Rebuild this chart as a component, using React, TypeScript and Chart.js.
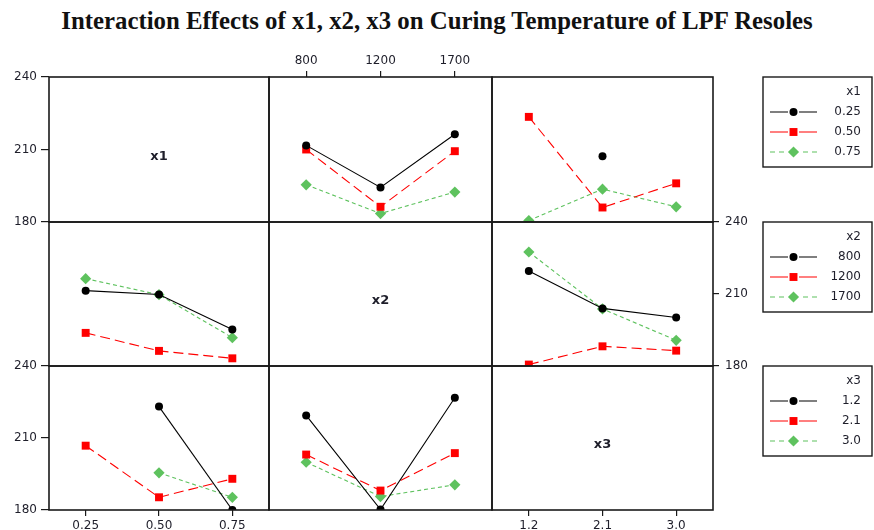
import { useEffect, useRef } from 'react';
import { Chart, registerables } from 'chart.js';

Chart.register(...registerables);

// Factor levels (categorical x positions and legend entries)
const factorNames = ['x1', 'x2', 'x3'];
const x1Levels = ['0.25', '0.50', '0.75'];
const x2Levels = ['800', '1200', '1700'];
const x3Levels = ['1.2', '2.1', '3.0'];
const levels = [x1Levels, x2Levels, x3Levels];

// Response axis (curing temperature)
const yMin = 180;
const yMax = 240;
const yStep = 30;

// Mean curing temperature vs x2, one line per x1 level
const vsX2ByX1_025 = [211.7, 194.3, 216.3];
const vsX2ByX1_050 = [210.0, 186.3, 209.3];
const vsX2ByX1_075 = [195.4, 183.5, 192.4];

// Mean curing temperature vs x3, one line per x1 level
const vsX3ByX1_025 = [null, 207.2, null];
const vsX3ByX1_050 = [223.5, 186.0, 196.0];
const vsX3ByX1_075 = [180.6, 193.6, 186.3];

// Mean curing temperature vs x1, one line per x2 level
const vsX1ByX2_800 = [211.4, 209.8, 195.2];
const vsX1ByX2_1200 = [193.8, 186.3, 183.2];
const vsX1ByX2_1700 = [216.4, 209.7, 191.8];

// Mean curing temperature vs x3, one line per x2 level
const vsX3ByX2_800 = [219.6, 204.0, 200.2];
const vsX3ByX2_1200 = [180.6, 188.2, 186.4];
const vsX3ByX2_1700 = [227.5, 203.8, 190.7];

// Mean curing temperature vs x1, one line per x3 level
const vsX1ByX3_12 = [null, 223.1, 180.0];
const vsX1ByX3_21 = [206.8, 185.3, 193.0];
const vsX1ByX3_30 = [null, 195.5, 185.3];

// Mean curing temperature vs x2, one line per x3 level
const vsX2ByX3_12 = [219.4, 180.2, 226.8];
const vsX2ByX3_21 = [203.1, 188.1, 203.7];
const vsX2ByX3_30 = [199.9, 185.6, 190.5];

// key: "<trace factor row>-<x factor column>"
const seriesTable: Record<string, (number | null)[][]> = {
  '0-1': [vsX2ByX1_025, vsX2ByX1_050, vsX2ByX1_075],
  '0-2': [vsX3ByX1_025, vsX3ByX1_050, vsX3ByX1_075],
  '1-0': [vsX1ByX2_800, vsX1ByX2_1200, vsX1ByX2_1700],
  '1-2': [vsX3ByX2_800, vsX3ByX2_1200, vsX3ByX2_1700],
  '2-0': [vsX1ByX3_12, vsX1ByX3_21, vsX1ByX3_30],
  '2-1': [vsX2ByX3_12, vsX2ByX3_21, vsX2ByX3_30],
};

const seriesStyles = [
  { color: '#000000', dash: [] as number[], legendDash: [] as number[], pointStyle: 'circle', radius: 4 },
  { color: '#ff0000', dash: [10, 5], legendDash: [] as number[], pointStyle: 'rect', radius: 5.6 },
  { color: '#5ec25e', dash: [4, 3], legendDash: [5, 4], pointStyle: 'rectRot', radius: 5.6 },
];

// Grid geometry of the 3x3 matrix (page pixels)
const colEdges = [49, 269, 492, 713];
const rowEdges = [77, 222, 366, 510];
const PAGE_W = 874;
const MARGIN = 40;

const TEXT = '#1e1e2a';
const FONT = '"DejaVu Sans", Verdana, sans-serif';

type Axes = { left?: boolean; right?: boolean; top?: boolean; bottom?: boolean };

function axesFor(r: number, c: number): Axes {
  if (r === 0 && c === 0) return { left: true };
  if (r === 0 && c === 1) return { top: true };
  if (r === 1 && c === 2) return { right: true };
  if (r === 2 && c === 0) return { left: true, bottom: true };
  if (r === 2 && c === 2) return { bottom: true };
  return {};
}

type Panel = { r: number; c: number };
const panels: Panel[] = [];
for (let r = 0; r < 3; r++) for (let c = 0; c < 3; c++) panels.push({ r, c });

function geometry(p: Panel) {
  const mL = MARGIN;
  const mR = p.c === 2 ? PAGE_W - colEdges[3] : MARGIN;
  const mT = MARGIN;
  const mB = MARGIN;
  const w = colEdges[p.c + 1] - colEdges[p.c] + mL + mR;
  const h = rowEdges[p.r + 1] - rowEdges[p.r] + mT + mB;
  return { x: colEdges[p.c] - mL, y: rowEdges[p.r] - mT, w, h, mL, mR, mT, mB };
}

function drawMarker(ctx: CanvasRenderingContext2D, style: string, x: number, y: number, r: number) {
  ctx.beginPath();
  if (style === 'circle') {
    ctx.arc(x, y, r, 0, Math.PI * 2);
  } else if (style === 'rect') {
    const s = r / Math.SQRT2;
    ctx.rect(x - s, y - s, 2 * s, 2 * s);
  } else {
    ctx.moveTo(x, y - r);
    ctx.lineTo(x + r, y);
    ctx.lineTo(x, y + r);
    ctx.lineTo(x - r, y);
    ctx.closePath();
  }
  ctx.fill();
}

// Frame around each panel, the factor name on diagonal panels and the legend box
const panelDecor = {
  id: 'panelDecor',
  afterDraw(chart: any, _args: any, opts: any) {
    const { ctx, chartArea: a } = chart;
    ctx.save();
    ctx.strokeStyle = '#1a1a1a';
    ctx.lineWidth = 1.6;
    ctx.setLineDash([]);
    ctx.strokeRect(a.left, a.top, a.right - a.left, a.bottom - a.top);

    if (opts.label) {
      ctx.font = `bold 13px ${FONT}`;
      ctx.fillStyle = TEXT;
      ctx.textAlign = 'center';
      ctx.textBaseline = 'middle';
      ctx.fillText(opts.label, (a.left + a.right) / 2, (a.top + a.bottom) / 2 + 7);
    }

    if (opts.legend) {
      const bx = a.right + 50;
      const by = a.top;
      const bw = 109;
      const bh = 90;
      ctx.lineWidth = 1.4;
      ctx.strokeStyle = '#1a1a1a';
      ctx.strokeRect(bx, by, bw, bh);
      ctx.font = `12px ${FONT}`;
      ctx.fillStyle = TEXT;
      ctx.textAlign = 'right';
      ctx.textBaseline = 'middle';
      const tx = bx + 98;
      ctx.fillText(opts.legend.title, tx, by + 15);
      opts.legend.labels.forEach((lab: string, i: number) => {
        const st = seriesStyles[i];
        const y = by + 35 + i * 20;
        ctx.strokeStyle = st.color;
        ctx.lineWidth = 1.2;
        ctx.setLineDash(st.legendDash);
        ctx.beginPath();
        ctx.moveTo(bx + 7, y);
        ctx.lineTo(bx + 25, y);
        ctx.moveTo(bx + 54, y);
        ctx.lineTo(bx + 36, y);
        ctx.stroke();
        ctx.setLineDash([]);
        ctx.fillStyle = st.color;
        drawMarker(ctx, st.pointStyle, bx + 30.5, y, st.radius);
        ctx.fillStyle = TEXT;
        ctx.fillText(lab, tx, y);
      });
    }
    ctx.restore();
  },
};

function buildConfig(p: Panel): any {
  const g = geometry(p);
  const axes = axesFor(p.r, p.c);
  const showX = !!(axes.top || axes.bottom);
  const showY = !!(axes.left || axes.right);
  const series = seriesTable[`${p.r}-${p.c}`] || [];
  const datasets = series.map((data, i) => {
    const st = seriesStyles[i];
    return {
      label: levels[p.r][i],
      data,
      borderColor: st.color,
      backgroundColor: st.color,
      borderWidth: 1.1,
      borderDash: st.dash,
      pointStyle: st.pointStyle,
      pointRadius: st.radius,
      pointBackgroundColor: st.color,
      pointBorderColor: st.color,
      pointBorderWidth: 0,
      spanGaps: false,
      tension: 0,
      clip: 0,
    };
  });
  const tickGrid = (len: number) => ({
    display: true,
    drawOnChartArea: false,
    drawTicks: true,
    offset: false,
    tickLength: len,
    color: '#1a1a1a',
    lineWidth: 1.2,
  });
  return {
    type: 'line',
    data: { labels: levels[p.c], datasets },
    plugins: [panelDecor],
    options: {
      responsive: false,
      animation: false,
      devicePixelRatio: 1,
      events: [],
      layout: {
        padding: {
          left: axes.left ? 0 : g.mL,
          right: axes.right ? 0 : g.mR,
          top: axes.top ? 0 : g.mT,
          bottom: axes.bottom ? 0 : g.mB,
        },
      },
      plugins: {
        legend: { display: false },
        tooltip: { enabled: false },
        title: { display: false },
        panelDecor: {
          label: p.r === p.c ? factorNames[p.r] : null,
          legend: p.c === 2 ? { title: factorNames[p.r], labels: levels[p.r] } : null,
        },
      },
      scales: {
        x: {
          type: 'category',
          offset: true,
          position: axes.top ? 'top' : 'bottom',
          display: showX,
          grid: tickGrid(6),
          border: { display: false },
          ticks: { color: TEXT, font: { family: FONT, size: 12 }, padding: 3, maxRotation: 0, autoSkip: false },
          afterFit: (s: any) => {
            s.height = showX ? (axes.top ? g.mT : g.mB) : 0;
          },
        },
        y: {
          type: 'linear',
          min: yMin,
          max: yMax,
          position: axes.right ? 'right' : 'left',
          display: showY,
          grid: tickGrid(axes.right ? 6 : 8),
          border: { display: false },
          ticks: {
            stepSize: yStep,
            color: TEXT,
            font: { family: FONT, size: 12 },
            padding: axes.right ? 6 : 4,
          },
          afterFit: (s: any) => {
            s.width = showY ? (axes.right ? g.mR : g.mL) : 0;
          },
        },
      },
    },
  };
}

export default function App() {
  const canvasRefs = useRef<(HTMLCanvasElement | null)[]>([]);

  useEffect(() => {
    const charts = panels.map((p, i) => {
      const canvas = canvasRefs.current[i];
      return canvas ? new Chart(canvas, buildConfig(p)) : null;
    });
    return () => charts.forEach((c) => c && c.destroy());
  }, []);

  return (
    <div
      style={{
        position: 'fixed',
        left: 0,
        top: 0,
        width: PAGE_W,
        height: 530,
        background: '#ffffff',
        overflow: 'hidden',
      }}
    >
      <div
        style={{
          position: 'absolute',
          left: 0,
          top: 7,
          width: PAGE_W,
          textAlign: 'center',
          fontFamily: '"Liberation Serif", "Times New Roman", serif',
          fontWeight: 'bold',
          fontSize: 24.8,
          lineHeight: '28px',
          color: '#111',
          whiteSpace: 'nowrap',
        }}
      >
        Interaction Effects of x1, x2, x3 on Curing Temperature of LPF Resoles
      </div>
      {panels.map((p, i) => {
        const g = geometry(p);
        return (
          <canvas
            key={i}
            ref={(el) => {
              canvasRefs.current[i] = el;
            }}
            width={g.w}
            height={g.h}
            style={{ position: 'absolute', left: g.x, top: g.y, width: g.w, height: g.h }}
          />
        );
      })}
    </div>
  );
}
